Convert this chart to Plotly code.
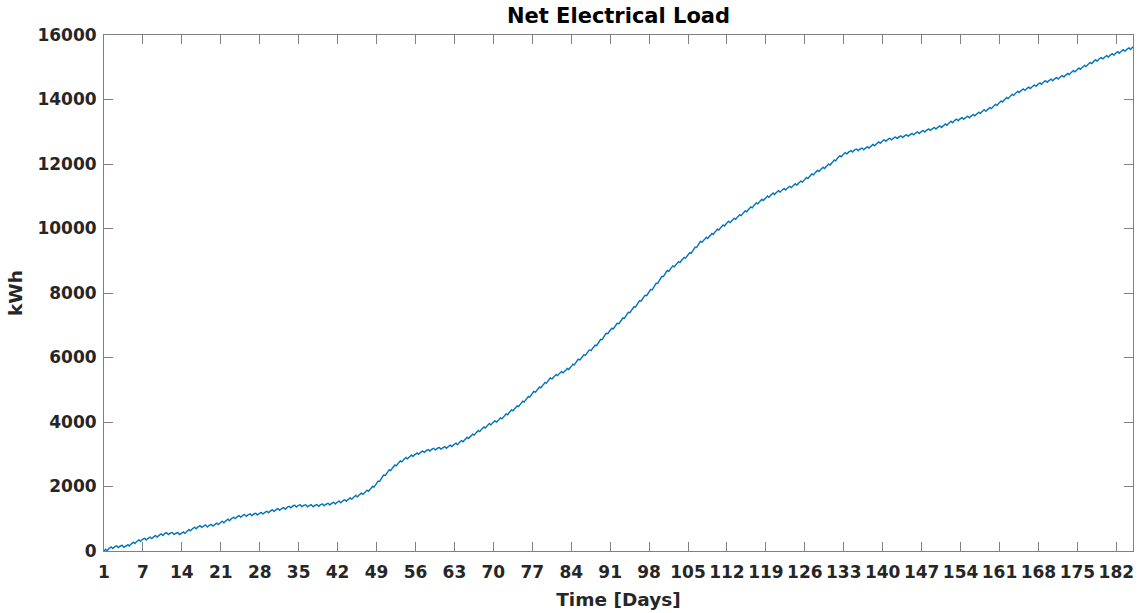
import numpy as np
import plotly.graph_objects as go

# Cumulative net electrical load at the start of each day (kWh), day 0 .. 185
daily_cumulative_kwh = [
    0, 90, 130, 150, 150, 230, 300, 360, 390, 440,
    490, 540, 550, 545, 545, 620, 700, 750, 775, 790,
    820, 880, 940, 1010, 1060, 1100, 1120, 1140, 1160, 1195,
    1240, 1280, 1310, 1350, 1390, 1410, 1410, 1405, 1410, 1430,
    1445, 1475, 1510, 1550, 1600, 1680, 1750, 1830, 1940, 2090,
    2280, 2450, 2600, 2740, 2850, 2930, 3000, 3060, 3110, 3150,
    3180, 3200, 3240, 3300, 3370, 3470, 3570, 3680, 3790, 3900,
    3990, 4070, 4190, 4320, 4440, 4580, 4720, 4880, 5020, 5160,
    5310, 5420, 5520, 5600, 5720, 5880, 6020, 6170, 6310, 6480,
    6680, 6840, 6990, 7150, 7330, 7500, 7680, 7860, 8030, 8220,
    8430, 8630, 8780, 8910, 9040, 9180, 9340, 9540, 9670, 9780,
    9920, 10050, 10170, 10260, 10370, 10490, 10610, 10740, 10850, 10950,
    11050, 11130, 11200, 11260, 11340, 11420, 11520, 11640, 11750, 11850,
    11940, 12060, 12200, 12310, 12380, 12430, 12460, 12490, 12560, 12640,
    12710, 12760, 12800, 12840, 12870, 12910, 12960, 13000, 13050, 13090,
    13140, 13190, 13280, 13350, 13400, 13440, 13490, 13560, 13640, 13700,
    13800, 13900, 14010, 14110, 14210, 14290, 14340, 14410, 14470, 14540,
    14590, 14640, 14700, 14760, 14850, 14930, 15010, 15100, 15190, 15260,
    15320, 15380, 15440, 15500, 15560, 15620,
]

# Typical intra-day deviation of the running total from the daily trend (kWh, hours 0..23)
hourly_offset_kwh = [0, 8, 16, 22, 27, 30, 30, 25, 14, 0, -14, -26,
                     -34, -38, -36, -30, -20, -10, -2, 4, 7, 7, 5, 2]

# X tick positions (days elapsed) and the day labels printed under them
tick_days = list(range(0, 183, 7))
tick_labels = ["1"] + [str(d) for d in tick_days[1:]]

# Y ticks
y_ticks = list(range(0, 16001, 2000))
y_tick_labels = [str(v) for v in y_ticks]

# Build the hourly series
daily = np.array(daily_cumulative_kwh, dtype=float)
offset = np.array(hourly_offset_kwh, dtype=float)
hours = np.arange(24)
t, load = [], []
for d in range(len(daily) - 1):
    step = daily[d + 1] - daily[d]
    t.extend(d + hours / 24.0)
    load.extend(daily[d] + step * hours / 24.0 + offset)
t.append(len(daily) - 1)
load.append(daily[-1])

font_family = "DejaVu Sans"
text_color = "#262626"
axis_color = "#808080"

fig = go.Figure(
    go.Scatter(
        x=t, y=load, mode="lines",
        line=dict(color="#0072BD", width=1.4),
        hoverinfo="skip",
    )
)

axis_common = dict(
    showgrid=False, zeroline=False, automargin=False,
    showline=True, linecolor=axis_color, linewidth=1,
    mirror="ticks", ticks="inside", ticklen=9, tickcolor=axis_color, tickwidth=1,
    tickfont=dict(family=font_family, size=17, color=text_color, weight="bold"),
)

fig.update_layout(
    width=1140, height=613,
    margin=dict(l=104, r=7, t=35, b=62),
    paper_bgcolor="white", plot_bgcolor="white",
    showlegend=False,
    title=dict(
        text="<b>Net Electrical Load</b>",
        x=0.5, xref="paper", y=1, yref="container", yanchor="top", pad=dict(t=8),
        font=dict(family=font_family, size=21, color="black"),
    ),
    xaxis=dict(
        range=[0, 185], tickmode="array", tickvals=tick_days, ticktext=tick_labels,
        ticklabelstandoff=6,
        title=dict(text="<b>Time [Days]</b>", standoff=11,
                   font=dict(family=font_family, size=18.5, color=text_color)),
        **axis_common,
    ),
    yaxis=dict(
        range=[0, 16000], tickmode="array", tickvals=y_ticks, ticktext=y_tick_labels,
        ticklabelstandoff=3,
        title=dict(text="<b>kWh</b>", standoff=9,
                   font=dict(family=font_family, size=18.5, color=text_color)),
        **axis_common,
    ),
)

fig.write_html("out.html")
